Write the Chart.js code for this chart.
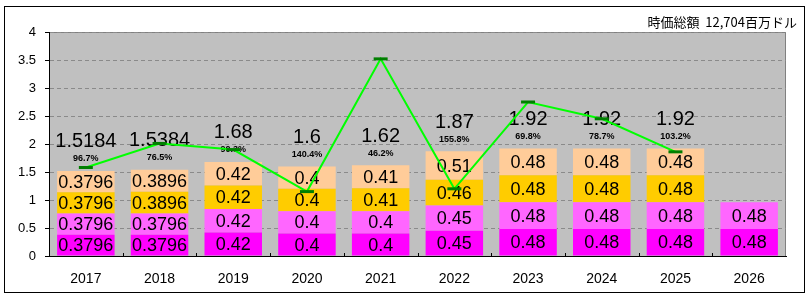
<!DOCTYPE html>
<html><head><meta charset="utf-8">
<script src="https://cdn.jsdelivr.net/npm/chart.js@4/dist/chart.umd.min.js"></script>
<style>html,body{margin:0;padding:0;background:#fff;}#wrap{width:809px;height:299px;}</style>
</head><body><div id="wrap"><canvas id="c" width="809" height="299"></canvas></div>
<script>
const categories = ['2017','2018','2019','2020','2021','2022','2023','2024','2025','2026'];
const q1 = [0.3796,0.3796,0.42,0.4,0.4,0.45,0.48,0.48,0.48,0.48];
const q2 = [0.3796,0.3796,0.42,0.4,0.4,0.45,0.48,0.48,0.48,0.48];
const q3 = [0.3796,0.3896,0.42,0.4,0.41,0.46,0.48,0.48,0.48,null];
const q4 = [0.3796,0.3896,0.42,0.4,0.41,0.51,0.48,0.48,0.48,null];
const totalLabels = ['1.5184','1.5384','1.68','1.6','1.62','1.87','1.92','1.92','1.92',null];
const payoutLabels = ['96.7%','76.5%','90.3%','140.4%','46.2%','155.8%','69.8%','78.7%','103.2%',null];
const eps = [1.58,2.01,1.9,1.15,3.52,1.2,2.75,2.45,1.86,null];
const yTicks = [0,0.5,1,1.5,2,2.5,3,3.5,4];
const titleText = '時価総額  12,704百万ドル';

const NUMFONT = '"Liberation Sans", Arial, sans-serif';

const decor = {
  id: 'decor',
  beforeDraw(chart) {
    const {ctx, chartArea: a} = chart;
    ctx.save();
    ctx.fillStyle = '#fff';
    ctx.fillRect(0,0,chart.width,chart.height);
    ctx.strokeStyle = '#000'; ctx.lineWidth = 1;
    ctx.strokeRect(4.5, 6.5, 800, 286);
    ctx.fillStyle = '#C0C0C0';
    ctx.fillRect(a.left, a.top, a.right - a.left, a.bottom - a.top);
    ctx.strokeStyle = '#808080';
    ctx.beginPath();
    ctx.moveTo(a.left, a.top + 0.5); ctx.lineTo(a.right - 0.5, a.top + 0.5); ctx.lineTo(a.right - 0.5, a.bottom);
    ctx.stroke();
    ctx.fillStyle = '#000';
    ctx.font = '13px "Noto Sans CJK JP", sans-serif';
    ctx.textAlign = 'right'; ctx.textBaseline = 'middle';
    ctx.fillText(titleText, 797, 22);
    ctx.restore();
  },
  afterDraw(chart) {
    const {ctx, chartArea: a, scales} = chart;
    const x = scales.x;
    ctx.save();
    ctx.strokeStyle = '#000'; ctx.lineWidth = 1;
    ctx.beginPath();
    for (let i = 1; i < categories.length; i++) {
      const px = Math.round((x.getPixelForValue(i - 1) + x.getPixelForValue(i)) / 2) + 0.5;
      ctx.moveTo(px, a.bottom); ctx.lineTo(px, a.bottom - 3);
    }
    ctx.stroke();
    ctx.restore();
  },
  beforeDatasetDraw(chart, args) {
    if (args.meta.type !== 'line') return;
    const {ctx, scales} = chart;
    const y = scales.y;
    ctx.save();
    ctx.fillStyle = '#000';
    ctx.textAlign = 'center'; ctx.textBaseline = 'middle';
    ctx.font = '18px ' + NUMFONT;
    const series = [q1,q2,q3,q4];
    for (let d = 0; d < 4; d++) {
      const meta = chart.getDatasetMeta(d + 1);
      meta.data.forEach((el, i) => {
        const v = series[d][i];
        if (v == null) return;
        const cy = (el.y + el.base) / 2;
        ctx.fillText(String(v), el.x, cy + 1);
      });
    }
    const m0 = chart.getDatasetMeta(1);
    categories.forEach((c, i) => {
      if (totalLabels[i] == null) return;
      const tot = q1[i] + q2[i] + (q3[i]||0) + (q4[i]||0);
      const top = y.getPixelForValue(tot);
      const cx = m0.data[i].x;
      ctx.font = 'bold 9px ' + NUMFONT;
      ctx.fillText(payoutLabels[i], cx, top - 12);
      ctx.font = '20px ' + NUMFONT;
      ctx.fillText(totalLabels[i], cx, top - 29);
    });
    ctx.restore();
  }
};

const barDs = (label, data, color) => ({
  type: 'bar', label, data, backgroundColor: color, stack: 'bars',
  categoryPercentage: 1.0, barPercentage: 0.78, borderWidth: 0, order: 1
});

new Chart(document.getElementById('c'), {
  data: {
    labels: categories,
    datasets: [
      { type: 'line', label: 'EPS', data: eps, stack: 'line', order: 0,
        borderColor: '#00FF00', borderWidth: 2, tension: 0, fill: false,
        pointStyle: 'line', pointRadius: 7, pointBorderColor: '#007F00',
        pointBackgroundColor: '#007F00', pointBorderWidth: 3, spanGaps: false },
      barDs('Q1', q1, '#FF00FF'),
      barDs('Q2', q2, '#FF66FF'),
      barDs('Q3', q3, '#FFCC00'),
      barDs('Q4', q4, '#FFCC99')
    ]
  },
  options: {
    responsive: false, animation: false,
    layout: { padding: { top: 32, right: 23, left: 0, bottom: 0 } },
    plugins: { legend: { display: false }, tooltip: { enabled: false } },
    scales: {
      x: {
        stacked: true, offset: true,
        grid: { display: false, drawTicks: false },
        border: { display: true, color: '#000', width: 1 },
        ticks: { color: '#000', font: { size: 14, family: NUMFONT }, padding: 15, maxRotation: 0 },
        afterFit(s) { s.height = 43; }
      },
      y: {
        stacked: true, min: 0, max: 4,
        afterBuildTicks(s) { s.ticks = yTicks.map(v => ({ value: v })); },
        grid: { color: '#8a8a8a', tickColor: '#000', tickLength: 4, tickBorderDash: [], drawTicks: true },
        border: { display: true, color: '#000', width: 1, dash: [4, 3] },
        ticks: { color: '#000', font: { size: 13, family: NUMFONT }, padding: 9,
                 callback: v => String(v) },
        afterFit(s) { s.width = 49; }
      }
    }
  },
  plugins: [decor]
});
</script>
</body></html>
